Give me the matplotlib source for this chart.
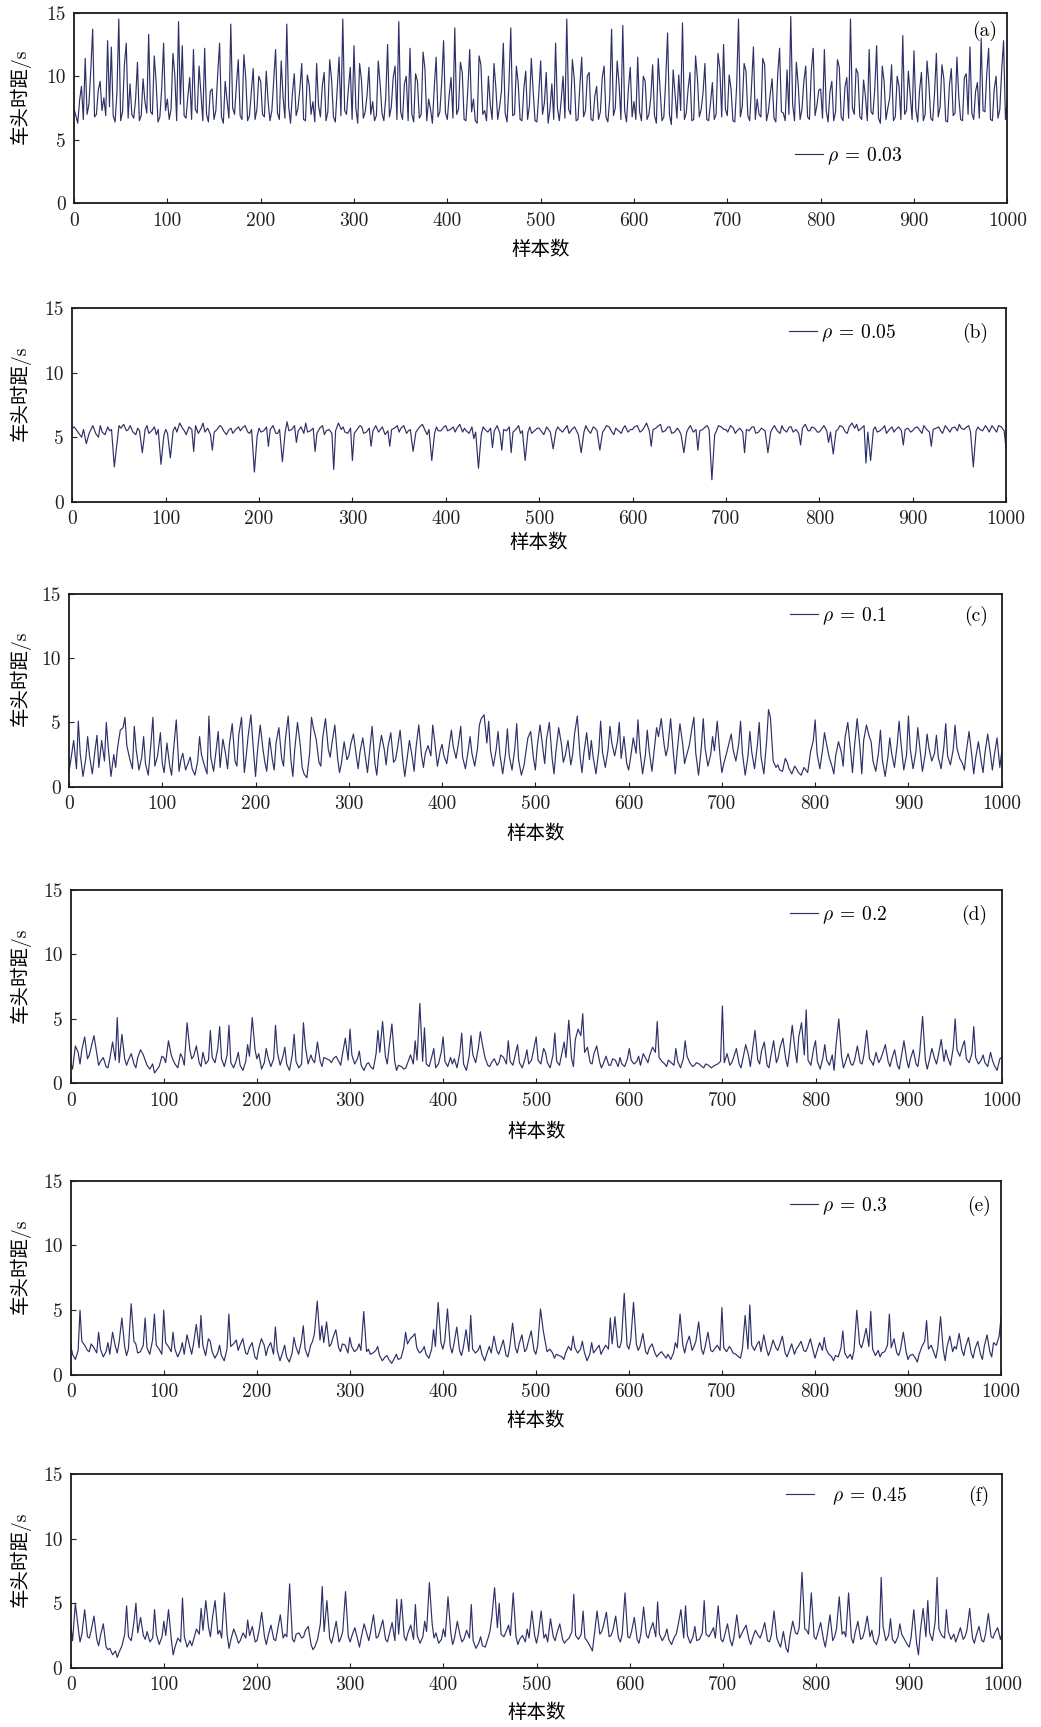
import numpy as np
import matplotlib
matplotlib.use("Agg")
import matplotlib.pyplot as plt

plt.rcParams["font.family"] = ["cmr10", "Noto Sans CJK SC", "DejaVu Sans"]
plt.rcParams["mathtext.fontset"] = "cm"
plt.rcParams["axes.unicode_minus"] = False
plt.rcParams["font.size"] = 14

# ── data (one value every ~2 / ~2.5 samples) ──────────────────────────────────
samples_a = np.arange(0, 1001, 2)
samples = np.round(np.arange(0, 1001, 2.5)).astype(int)

headway_a = [
    7.4, 6.9, 6.3, 8.1, 9.2, 6.6, 11.4, 7.0, 7.8, 10.5, 13.7, 6.8, 7.0, 8.9, 9.6, 7.3, 8.3, 6.9, 12.8, 7.6,
    12.3, 6.9, 6.4, 8.7, 14.5, 6.5, 7.2, 10.9, 12.6, 6.7, 9.4, 7.0, 6.7, 8.2, 11.1, 6.5, 6.9, 9.8, 8.0, 7.1,
    13.3, 7.2, 7.0, 11.6, 9.5, 6.4, 6.8, 9.1, 12.6, 7.3, 8.2, 6.6, 7.4, 11.8, 10.1, 6.5, 14.3, 7.8, 12.4, 6.9,
    6.7, 8.4, 9.9, 6.6, 12.1, 7.4, 7.1, 10.8, 8.6, 6.5, 12.2, 7.0, 6.4, 8.8, 9.0, 6.6, 7.3, 10.2, 12.6, 6.8,
    6.3, 9.6, 8.1, 6.7, 14.1, 7.5, 7.0, 9.3, 11.3, 6.9, 6.6, 11.7, 9.9, 6.5, 6.9, 8.7, 10.6, 6.6, 7.4, 10.0,
    9.6, 7.0, 6.8, 10.4, 8.0, 6.5, 7.3, 9.7, 12.1, 7.1, 6.6, 11.2, 8.4, 6.7, 14.1, 7.6, 6.3, 8.6, 10.2, 6.9,
    7.5, 9.0, 11.0, 6.6, 6.5, 10.1, 9.3, 7.0, 8.0, 6.4, 11.0, 7.7, 6.8, 9.2, 10.3, 6.5, 7.2, 11.3, 9.7, 6.8,
    6.4, 8.9, 11.5, 6.9, 14.5, 7.3, 7.0, 9.0, 10.7, 6.6, 12.4, 7.5, 6.3, 11.0, 9.7, 6.7, 7.2, 8.5, 10.7, 7.0,
    8.0, 6.5, 6.9, 11.2, 9.4, 7.1, 6.5, 8.3, 12.5, 6.8, 7.6, 9.9, 10.8, 6.6, 14.3, 7.2, 6.6, 9.4, 10.0, 6.5,
    12.2, 7.0, 6.4, 10.2, 9.6, 6.7, 7.0, 11.9, 10.6, 6.5, 8.2, 7.4, 6.3, 9.1, 11.5, 6.8, 7.2, 9.5, 12.8, 7.1,
    6.6, 8.5, 9.9, 6.7, 13.8, 7.0, 7.4, 11.1, 10.3, 6.6, 6.5, 9.0, 12.1, 7.2, 8.2, 6.5, 6.3, 11.6, 10.9, 7.0,
    7.3, 6.5, 10.0, 7.8, 6.6, 11.0, 9.1, 6.6, 7.6, 8.8, 12.6, 7.1, 6.4, 9.3, 13.8, 6.9, 7.0, 10.8, 9.4, 6.6,
    6.5, 9.0, 10.4, 6.6, 7.7, 11.4, 8.8, 6.5, 6.4, 8.6, 11.2, 7.0, 7.9, 10.3, 6.3, 7.4, 9.4, 6.6, 12.6, 7.5,
    6.5, 8.1, 10.0, 6.7, 14.5, 7.4, 7.0, 11.3, 9.8, 6.5, 6.6, 9.2, 11.5, 6.8, 7.3, 10.0, 10.3, 6.6, 6.5, 8.4,
    9.2, 6.6, 7.2, 9.9, 10.8, 6.8, 6.4, 8.2, 13.7, 6.9, 7.5, 11.2, 9.4, 6.6, 14.0, 7.3, 6.4, 9.0, 10.7, 6.8,
    8.0, 6.6, 11.5, 7.2, 6.5, 10.0, 9.6, 6.6, 7.0, 8.3, 10.9, 6.9, 6.3, 11.4, 8.9, 6.5, 6.8, 9.7, 13.4, 7.0,
    6.2, 10.5, 8.6, 6.7, 10.1, 7.3, 14.2, 6.6, 7.1, 9.0, 10.3, 6.5, 6.6, 11.6, 9.8, 6.8, 7.4, 8.7, 11.0, 6.6,
    6.5, 7.9, 9.5, 6.6, 7.0, 11.8, 10.6, 6.8, 12.5, 7.4, 6.9, 10.1, 9.0, 6.5, 6.4, 9.2, 14.5, 6.8, 7.6, 11.0,
    10.4, 6.9, 6.5, 9.3, 12.3, 6.6, 8.2, 7.0, 6.8, 11.4, 10.9, 6.5, 7.2, 8.6, 9.8, 6.7, 6.4, 10.1, 12.2, 7.2,
    7.1, 6.5, 10.5, 7.0, 14.7, 7.8, 6.5, 11.1, 9.3, 6.6, 7.4, 9.6, 10.8, 6.8, 6.6, 10.4, 12.2, 6.9, 7.7, 8.9,
    9.0, 6.7, 12.1, 7.3, 6.4, 8.8, 9.6, 6.5, 7.2, 11.3, 10.7, 6.8, 6.5, 9.1, 9.9, 6.7, 14.5, 7.5, 7.0, 10.6,
    10.2, 6.8, 6.6, 9.7, 8.4, 6.5, 12.1, 7.2, 7.0, 9.0, 12.4, 6.7, 6.3, 10.8, 9.6, 6.6, 7.5, 8.3, 10.9, 6.5,
    6.8, 10.0, 9.2, 6.6, 13.2, 7.0, 7.3, 10.4, 8.5, 6.6, 12.0, 7.4, 6.4, 8.9, 10.3, 6.5, 7.0, 11.2, 9.4, 6.7,
    6.5, 8.6, 11.8, 6.8, 7.6, 10.9, 9.8, 6.5, 6.4, 9.3, 10.6, 6.9, 7.1, 11.5, 8.4, 6.6, 6.5, 9.9, 10.2, 7.0,
    12.3, 7.1, 6.6, 8.8, 9.5, 6.7, 13.0, 7.3, 7.2, 10.2, 12.2, 6.6, 6.5, 9.0, 10.0, 6.7, 7.4, 10.5, 12.8, 6.6,
    8.2,
]

headway_b = [
    5.7, 5.8, 5.5, 5.2, 5.0, 5.6, 4.5, 5.3, 5.6, 5.9, 5.3, 5.0, 5.9, 5.4, 5.2, 5.8, 5.5, 5.6, 2.7, 4.6,
    5.9, 5.7, 6.0, 5.5, 5.6, 5.9, 5.4, 5.2, 5.7, 5.5, 3.8, 5.6, 5.9, 5.3, 5.5, 5.8, 5.2, 5.6, 2.9, 5.1,
    5.6, 5.3, 3.4, 5.5, 5.8, 5.4, 6.1, 5.7, 5.5, 5.2, 5.8, 5.6, 3.9, 5.9, 5.3, 5.7, 6.1, 5.4, 5.7, 5.2,
    4.0, 5.4, 5.6, 5.9, 5.8, 5.5, 5.2, 5.6, 5.7, 5.3, 5.6, 5.8, 5.5, 5.7, 5.9, 5.4, 5.3, 5.6, 2.3, 5.1,
    5.7, 5.4, 5.5, 5.8, 4.3, 5.6, 5.9, 5.3, 5.3, 5.6, 3.1, 5.4, 6.2, 5.5, 5.6, 5.9, 4.6, 5.5, 5.8, 5.3,
    6.1, 5.4, 5.5, 5.7, 3.9, 5.3, 5.7, 5.9, 5.2, 5.5, 5.6, 5.3, 2.5, 5.5, 6.1, 5.6, 5.8, 5.4, 5.3, 5.7,
    3.2, 5.3, 5.6, 5.9, 5.8, 5.3, 5.4, 5.7, 4.3, 5.5, 5.9, 5.4, 5.6, 5.8, 5.2, 5.5, 4.3, 5.6, 5.7, 5.9,
    5.4, 5.7, 5.9, 5.3, 5.5, 5.6, 3.9, 5.4, 5.6, 5.8, 6.0, 5.5, 5.2, 5.6, 3.2, 5.3, 5.8, 5.5, 5.5, 5.8,
    5.9, 5.5, 5.6, 5.8, 5.4, 5.7, 6.0, 5.4, 5.7, 5.5, 5.3, 5.8, 4.9, 5.4, 2.6, 5.2, 5.8, 5.6, 5.4, 5.7,
    4.2, 5.5, 5.9, 5.3, 4.0, 5.6, 5.5, 5.8, 3.8, 5.4, 5.6, 5.9, 5.3, 5.5, 3.2, 5.4, 5.8, 5.3, 5.5, 5.7,
    5.7, 5.5, 5.2, 5.8, 5.6, 5.4, 4.1, 5.5, 5.8, 5.6, 5.4, 5.7, 5.9, 5.3, 5.6, 5.8, 5.5, 5.2, 3.8, 5.4,
    5.9, 5.6, 5.3, 5.8, 5.7, 5.5, 4.0, 5.4, 5.6, 5.9, 5.8, 5.4, 5.2, 5.7, 5.5, 5.3, 5.7, 5.9, 5.4, 5.6,
    5.6, 5.8, 5.9, 5.4, 5.5, 5.7, 6.1, 5.5, 4.3, 5.6, 5.7, 5.9, 6.0, 5.4, 5.5, 5.8, 5.8, 5.3, 5.4, 5.7,
    5.5, 5.2, 3.8, 5.4, 5.7, 5.9, 5.4, 5.6, 4.0, 5.5, 5.6, 5.8, 5.9, 5.6, 1.7, 5.2, 5.5, 5.9, 5.8, 5.6,
    5.6, 5.4, 5.9, 5.7, 5.3, 5.5, 5.7, 5.4, 3.8, 5.6, 5.5, 5.8, 5.8, 5.3, 5.4, 5.7, 5.6, 5.5, 3.8, 5.4,
    5.7, 5.9, 5.5, 5.3, 5.9, 5.6, 5.4, 5.8, 5.8, 5.4, 5.6, 5.3, 4.4, 5.7, 6.0, 5.5, 5.5, 5.8, 5.7, 5.4,
    5.4, 5.6, 5.9, 5.5, 4.6, 5.4, 3.7, 5.5, 5.6, 5.9, 5.8, 5.4, 5.3, 5.8, 6.1, 5.7, 6.0, 5.5, 5.7, 5.9,
    3.0, 5.4, 3.2, 5.6, 5.8, 5.4, 5.5, 5.7, 5.9, 5.3, 5.6, 5.8, 5.4, 5.6, 5.8, 5.5, 4.4, 5.6, 5.7, 5.4,
    5.5, 5.7, 5.8, 5.5, 5.3, 5.9, 5.6, 5.4, 4.3, 5.6, 5.7, 5.8, 5.5, 5.3, 5.9, 5.6, 5.4, 5.7, 5.8, 5.5,
    6.0, 5.7, 5.6, 5.8, 5.9, 5.4, 2.7, 5.5, 5.8, 5.6, 5.5, 5.9, 5.7, 5.4, 5.9, 5.6, 5.4, 5.9, 5.8, 5.5,
    4.2,
]

headway_c = [
    1.2, 2.1, 3.6, 1.4, 5.1, 2.6, 0.8, 2.2, 3.9, 2.4, 1.0, 2.9, 4.0, 1.5, 3.6, 2.0, 5.0, 3.1, 0.8, 2.5,
    1.5, 3.0, 4.4, 4.6, 5.4, 3.2, 2.2, 1.4, 4.7, 2.9, 1.3, 2.3, 3.9, 1.8, 0.9, 3.5, 5.4, 1.6, 2.4, 4.2,
    1.8, 1.1, 3.4, 1.6, 0.9, 2.8, 5.2, 1.2, 2.1, 2.6, 1.3, 1.9, 2.3, 1.4, 0.9, 2.0, 3.9, 2.5, 1.7, 1.0,
    5.5, 2.3, 1.2, 3.0, 4.3, 1.5, 3.7, 2.5, 1.4, 3.3, 4.9, 2.0, 1.6, 4.0, 5.4, 1.1, 2.4, 3.9, 5.6, 2.6,
    0.8, 2.7, 4.8, 2.9, 1.9, 1.2, 3.8, 2.1, 1.3, 3.4, 4.6, 2.2, 1.6, 3.7, 5.5, 2.0, 0.8, 2.9, 5.0, 3.2,
    1.5, 1.0, 0.7, 2.6, 5.4, 4.6, 3.7, 1.9, 1.6, 3.8, 5.3, 2.9, 2.3, 3.4, 4.8, 2.2, 1.1, 1.8, 3.5, 2.1,
    2.4, 3.3, 4.1, 2.4, 1.4, 2.7, 3.8, 2.2, 1.1, 2.5, 4.7, 1.8, 0.9, 2.6, 4.0, 2.9, 1.7, 3.1, 4.2, 1.9,
    2.1, 2.9, 4.4, 2.0, 0.8, 1.9, 3.6, 2.3, 1.2, 3.0, 4.8, 2.4, 1.5, 2.6, 3.2, 2.4, 4.8, 3.6, 1.6, 2.8,
    3.3, 2.4, 1.8, 3.4, 4.4, 3.1, 2.2, 3.6, 4.7, 2.3, 1.4, 2.8, 3.9, 2.6, 1.6, 3.0, 4.8, 5.3, 5.6, 3.4,
    5.1, 2.8, 1.6, 2.9, 4.3, 2.5, 1.0, 2.6, 4.5, 2.4, 1.3, 3.0, 4.9, 2.1, 0.9, 1.7, 2.8, 3.8, 4.3, 2.2,
    1.3, 3.1, 4.8, 3.0, 1.8, 3.7, 5.0, 2.2, 1.0, 2.7, 4.6, 3.3, 1.9, 2.4, 3.6, 1.7, 2.5, 4.1, 5.5, 2.3,
    1.1, 2.6, 4.2, 2.1, 3.6, 2.3, 1.0, 2.8, 5.1, 2.7, 1.5, 2.9, 4.7, 3.4, 2.4, 3.5, 5.0, 2.2, 3.9, 1.8,
    1.3, 2.2, 3.8, 2.6, 5.2, 2.9, 1.0, 2.5, 4.4, 2.8, 1.2, 3.2, 4.6, 3.9, 5.3, 3.3, 2.4, 3.0, 5.3, 2.6,
    1.0, 2.7, 4.9, 3.3, 1.8, 2.4, 3.2, 4.6, 5.4, 2.6, 0.9, 3.1, 5.3, 3.0, 1.6, 2.5, 3.9, 2.8, 5.1, 2.4,
    1.1, 1.8, 2.6, 3.5, 4.1, 2.9, 2.0, 3.3, 5.1, 2.6, 0.9, 2.4, 4.3, 2.7, 1.4, 3.2, 5.0, 2.3, 1.0, 3.6,
    6.0, 5.4, 2.0, 1.5, 1.7, 1.3, 1.2, 2.2, 1.9, 1.4, 1.0, 1.6, 1.4, 1.1, 0.9, 1.5, 1.3, 1.1, 2.7, 3.6,
    5.2, 2.6, 1.4, 2.9, 4.2, 3.4, 2.3, 1.6, 1.0, 2.4, 3.5, 2.7, 1.6, 3.8, 5.0, 2.8, 1.1, 3.0, 5.3, 3.1,
    1.0, 3.6, 4.8, 3.9, 3.5, 2.0, 1.2, 2.7, 4.4, 2.1, 0.8, 2.3, 3.8, 2.6, 1.5, 3.3, 5.1, 3.4, 1.3, 2.5,
    5.5, 2.9, 1.4, 2.7, 4.6, 3.2, 1.2, 2.5, 4.1, 3.0, 2.0, 2.6, 4.0, 2.3, 1.4, 3.1, 4.9, 2.4, 1.7, 2.9,
    4.8, 3.0, 2.2, 1.8, 1.3, 2.7, 4.3, 2.4, 1.0, 2.2, 3.5, 2.0, 1.1, 2.6, 4.1, 2.5, 1.3, 2.4, 3.8, 1.5,
    2.7,
]

headway_d = [
    1.6, 1.1, 2.9, 2.4, 1.5, 2.6, 3.6, 1.9, 2.2, 2.8, 3.7, 2.3, 1.4, 1.7, 2.0, 1.3, 1.2, 1.9, 3.2, 1.8,
    5.1, 1.6, 3.8, 1.9, 1.4, 1.8, 2.3, 1.5, 1.2, 2.0, 2.6, 2.2, 1.8, 1.4, 1.1, 1.5, 0.8, 1.0, 1.3, 2.1,
    2.0, 1.6, 3.3, 2.2, 1.8, 1.5, 1.2, 2.3, 2.0, 1.4, 4.7, 2.6, 1.9, 2.1, 2.9, 1.6, 1.3, 2.4, 1.5, 1.8,
    4.1, 2.0, 1.6, 2.7, 4.4, 1.9, 1.3, 2.2, 4.5, 1.6, 1.2, 1.8, 2.4, 1.4, 1.0, 1.7, 3.0, 2.1, 5.1, 2.6,
    1.9, 2.3, 1.1, 1.6, 2.7, 2.0, 1.3, 1.9, 4.5, 2.4, 1.4, 2.1, 2.8, 1.5, 1.0, 2.2, 3.8, 1.7, 1.2, 1.5,
    4.7, 2.9, 1.5, 2.2, 1.8, 1.6, 3.2, 1.7, 1.3, 2.0, 1.9, 1.8, 1.6, 1.9, 2.1, 1.7, 1.4, 2.3, 3.5, 1.8,
    4.2, 2.2, 1.5, 1.9, 2.5, 1.4, 1.0, 1.5, 1.6, 1.3, 1.1, 2.3, 4.1, 2.4, 4.8, 2.1, 1.5, 2.8, 4.6, 1.7,
    1.0, 1.4, 1.3, 1.1, 1.2, 1.6, 2.2, 1.5, 3.3, 1.8, 6.2, 1.7, 4.3, 1.5, 1.3, 2.1, 2.7, 1.2, 1.5, 2.4,
    3.6, 1.7, 1.3, 2.0, 1.5, 1.9, 1.2, 2.4, 3.9, 1.5, 1.0, 2.1, 3.7, 2.2, 1.6, 2.8, 4.0, 3.1, 2.0, 1.4,
    1.3, 1.6, 1.9, 1.4, 1.6, 2.2, 2.0, 1.5, 3.3, 1.7, 1.4, 2.4, 3.0, 1.6, 1.2, 1.9, 2.6, 1.5, 1.8, 2.9,
    3.6, 1.8, 1.5, 2.7, 2.4, 1.6, 1.2, 2.2, 3.9, 1.7, 1.4, 2.5, 3.2, 2.0, 4.9, 1.9, 1.3, 3.4, 4.2, 3.7,
    5.4, 2.4, 2.8, 1.6, 1.5, 2.3, 2.9, 1.7, 1.2, 1.5, 2.1, 1.4, 1.4, 1.9, 1.8, 1.3, 2.0, 1.5, 1.3, 1.9,
    2.7, 1.8, 1.5, 1.7, 2.1, 1.4, 2.3, 1.9, 1.6, 2.2, 2.8, 2.4, 4.8, 2.0, 1.7, 1.5, 1.3, 1.8, 1.6, 1.4,
    2.7, 1.7, 1.2, 1.9, 3.3, 2.1, 1.6, 1.3, 1.4, 1.6, 1.5, 1.3, 1.2, 1.5, 1.4, 1.2, 1.3, 1.4, 1.5, 1.7,
    6.0, 1.6, 2.3, 1.4, 1.6, 2.0, 2.7, 1.5, 1.2, 1.9, 3.0, 2.2, 1.3, 2.4, 4.1, 1.8, 1.5, 2.5, 3.2, 1.4,
    1.2, 2.1, 3.3, 1.6, 2.0, 2.8, 3.5, 1.9, 1.3, 2.4, 4.5, 2.6, 1.6, 3.6, 4.7, 2.2, 5.7, 1.8, 1.4, 2.7,
    3.3, 1.7, 1.1, 2.0, 3.0, 1.8, 1.4, 2.2, 1.0, 2.9, 5.0, 2.1, 1.2, 1.6, 2.3, 1.5, 1.4, 1.8, 2.9, 1.6,
    1.5, 2.2, 4.1, 1.9, 1.7, 1.4, 2.4, 1.6, 1.9, 2.3, 3.0, 1.7, 1.3, 1.9, 2.6, 1.4, 1.1, 2.0, 3.3, 1.8,
    1.2, 1.9, 2.6, 1.5, 1.3, 2.4, 5.2, 1.8, 1.1, 1.7, 2.7, 1.9, 1.5, 2.2, 3.4, 1.7, 2.6, 2.0, 1.4, 2.8,
    5.0, 2.6, 2.1, 2.9, 3.3, 1.9, 1.6, 2.3, 4.4, 2.0, 1.5, 1.8, 2.2, 1.6, 1.3, 2.4, 1.8, 1.4, 1.0, 1.9,
    2.0,
]

headway_e = [
    2.3, 1.6, 1.2, 1.9, 5.0, 2.6, 2.3, 1.9, 1.8, 2.4, 2.1, 1.7, 3.3, 2.0, 1.4, 1.8, 2.5, 1.6, 3.3, 2.2,
    1.7, 2.5, 4.4, 2.2, 1.5, 2.0, 5.5, 2.6, 2.4, 1.7, 1.8, 2.3, 4.4, 2.1, 1.6, 2.7, 4.7, 2.3, 2.0, 1.6,
    5.0, 2.5, 2.2, 1.8, 3.3, 2.0, 1.4, 1.9, 2.5, 1.6, 3.1, 2.2, 1.6, 2.4, 3.9, 2.1, 4.6, 2.3, 1.5, 2.8,
    2.6, 1.8, 1.3, 1.7, 2.3, 1.5, 1.1, 2.0, 4.7, 2.2, 2.4, 2.7, 1.9, 2.3, 2.8, 1.7, 1.6, 2.1, 2.5, 1.4,
    1.2, 2.0, 2.8, 2.3, 1.5, 2.1, 2.5, 1.6, 3.7, 1.9, 1.1, 1.8, 2.3, 1.4, 1.0, 1.7, 2.9, 2.2, 1.6, 2.6,
    3.8, 2.0, 1.4, 2.3, 2.6, 3.2, 5.7, 2.7, 3.8, 2.5, 4.1, 2.2, 2.4, 2.9, 3.5, 2.1, 1.8, 2.4, 2.3, 1.7,
    2.9, 2.2, 1.8, 2.0, 2.4, 1.9, 4.9, 1.8, 2.0, 1.6, 1.7, 1.9, 2.2, 1.5, 1.1, 1.4, 1.5, 1.2, 0.9, 1.3,
    1.6, 1.2, 1.3, 2.1, 3.3, 2.4, 2.8, 3.0, 3.2, 2.1, 1.7, 1.9, 2.2, 1.6, 1.3, 2.0, 3.5, 2.2, 5.6, 2.5,
    2.0, 2.6, 5.1, 2.2, 1.7, 2.4, 3.7, 1.9, 1.5, 2.1, 3.5, 1.8, 4.6, 2.0, 1.7, 1.9, 2.3, 1.6, 1.1, 1.8,
    2.2, 1.7, 3.0, 1.9, 1.6, 2.0, 2.7, 1.5, 1.4, 2.2, 4.0, 2.1, 1.7, 2.4, 3.1, 1.8, 2.0, 2.6, 3.4, 1.9,
    1.6, 2.3, 5.1, 3.4, 2.6, 1.8, 2.0, 1.7, 1.3, 1.6, 1.5, 1.4, 1.2, 1.7, 2.2, 1.9, 3.0, 2.1, 1.7, 2.0,
    2.6, 1.8, 1.1, 1.6, 2.5, 1.7, 2.0, 2.3, 1.6, 1.9, 2.3, 2.0, 4.4, 2.4, 4.5, 2.2, 2.1, 2.6, 6.3, 2.3,
    2.0, 2.7, 5.6, 2.4, 1.9, 2.2, 3.2, 1.8, 1.6, 2.1, 2.4, 1.7, 1.4, 1.6, 1.8, 1.5, 1.3, 1.6, 1.2, 1.7,
    2.5, 2.1, 4.7, 2.3, 1.7, 2.4, 3.0, 1.9, 2.2, 2.6, 4.1, 2.0, 1.6, 2.2, 3.3, 1.9, 1.8, 2.0, 2.3, 1.9,
    5.2, 2.1, 1.8, 2.2, 2.0, 1.7, 1.6, 1.4, 1.3, 2.0, 4.6, 2.0, 5.4, 2.3, 1.9, 2.4, 2.6, 1.8, 3.1, 2.0,
    1.5, 1.9, 2.7, 2.1, 1.9, 2.3, 3.0, 1.7, 1.4, 1.8, 2.4, 1.6, 2.0, 2.2, 2.6, 1.9, 1.8, 2.1, 2.8, 1.9,
    1.3, 1.8, 2.5, 1.9, 2.9, 2.0, 1.6, 1.4, 1.1, 1.5, 1.4, 2.1, 3.4, 1.7, 1.3, 1.6, 1.2, 1.9, 5.0, 2.4,
    2.1, 2.6, 3.6, 2.2, 4.9, 2.0, 1.5, 1.9, 1.4, 1.7, 1.8, 2.3, 4.7, 2.1, 2.8, 1.7, 1.5, 2.0, 3.3, 1.8,
    1.2, 1.5, 1.6, 1.3, 1.0, 1.6, 2.2, 2.6, 4.2, 2.0, 2.3, 1.7, 1.3, 2.1, 4.5, 1.9, 1.1, 2.2, 3.0, 1.8,
    2.2, 2.0, 3.2, 1.9, 1.5, 2.2, 2.9, 1.7, 1.3, 2.0, 2.6, 1.6, 1.2, 2.2, 3.1, 1.8, 1.4, 2.5, 2.3, 3.0,
    4.4,
]

headway_f = [
    3.3, 2.1, 5.0, 3.1, 2.0, 2.6, 4.5, 2.4, 2.3, 2.9, 4.0, 2.2, 1.7, 2.5, 3.4, 1.6, 1.4, 1.5, 1.0, 1.3,
    0.8, 1.2, 1.7, 2.6, 4.8, 2.4, 2.1, 3.6, 5.0, 2.7, 3.9, 2.5, 2.2, 2.8, 2.0, 2.3, 4.5, 2.6, 1.8, 2.4,
    3.6, 2.5, 4.5, 2.2, 1.0, 1.6, 2.3, 2.0, 5.4, 2.4, 1.6, 2.1, 1.7, 2.2, 3.0, 2.6, 4.6, 2.9, 5.2, 3.1,
    2.4, 3.8, 5.2, 2.6, 2.9, 2.3, 5.8, 2.5, 1.5, 2.2, 3.0, 2.4, 1.9, 2.1, 2.7, 2.3, 3.7, 2.5, 3.2, 2.0,
    2.1, 2.8, 4.3, 2.4, 1.8, 2.5, 3.3, 2.2, 2.1, 2.9, 4.1, 2.3, 2.6, 2.4, 6.5, 2.2, 2.0, 2.6, 2.7, 2.3,
    2.4, 2.9, 3.2, 1.8, 1.4, 1.6, 2.2, 3.4, 6.3, 2.8, 5.2, 2.3, 1.9, 2.5, 3.6, 2.0, 2.3, 2.8, 5.9, 2.4,
    2.0, 2.5, 3.1, 2.2, 1.6, 2.4, 3.4, 2.6, 2.1, 2.8, 4.1, 2.3, 2.4, 2.9, 3.7, 2.2, 2.0, 2.6, 3.5, 2.1,
    5.3, 2.6, 5.3, 2.4, 2.1, 2.7, 3.3, 2.2, 4.9, 2.5, 1.9, 2.4, 3.6, 2.8, 6.6, 3.4, 2.3, 2.7, 1.9, 2.2,
    3.0, 2.4, 5.5, 2.7, 1.8, 2.3, 3.6, 2.5, 2.0, 2.2, 2.9, 2.3, 4.9, 2.1, 1.5, 1.9, 2.4, 1.7, 1.6, 2.3,
    2.8, 3.9, 6.2, 3.1, 5.0, 2.6, 2.4, 2.9, 3.3, 2.5, 5.8, 2.4, 1.8, 2.2, 2.5, 2.0, 3.0, 2.3, 4.4, 2.5,
    1.9, 2.6, 4.4, 2.3, 2.6, 2.0, 3.8, 2.4, 2.1, 2.7, 3.4, 2.2, 1.9, 2.1, 2.3, 2.8, 5.7, 2.5, 2.2, 2.6,
    4.4, 2.3, 2.0, 1.6, 1.3, 2.5, 4.4, 2.6, 2.8, 3.3, 4.3, 2.4, 2.5, 2.9, 4.0, 2.3, 2.0, 2.6, 5.8, 2.4,
    2.3, 2.8, 3.9, 2.2, 1.9, 2.6, 4.7, 2.5, 2.3, 2.9, 3.5, 2.4, 5.1, 2.6, 2.1, 2.5, 3.0, 2.2, 1.8, 2.4,
    2.6, 3.3, 4.5, 2.3, 4.8, 2.5, 1.9, 2.4, 3.2, 2.1, 2.2, 2.7, 5.2, 2.6, 2.4, 2.8, 3.1, 2.3, 4.8, 2.2,
    2.0, 2.5, 3.4, 2.1, 1.7, 2.4, 4.1, 2.3, 2.6, 2.9, 3.3, 2.2, 1.8, 2.3, 2.9, 2.5, 2.3, 2.7, 3.5, 2.1,
    2.0, 2.5, 4.4, 2.3, 1.9, 1.6, 2.8, 1.5, 1.2, 2.4, 3.6, 2.7, 2.6, 3.1, 7.4, 3.0, 2.9, 2.6, 5.8, 2.4,
    2.2, 2.7, 3.5, 2.2, 1.6, 2.5, 4.1, 2.1, 2.4, 3.0, 5.5, 2.6, 2.8, 2.4, 5.8, 2.3, 1.9, 2.7, 3.6, 2.2,
    2.3, 2.8, 4.0, 2.4, 2.9, 2.1, 1.8, 2.6, 7.0, 3.2, 2.1, 2.5, 3.8, 2.2, 1.9, 2.4, 3.4, 2.6, 2.2, 1.8,
    1.6, 2.3, 4.5, 1.9, 1.0, 2.8, 4.6, 2.4, 5.2, 2.7, 2.1, 3.6, 7.0, 3.0, 2.5, 2.3, 4.5, 2.8, 2.2, 2.6,
    2.0, 2.4, 3.1, 2.2, 2.4, 2.9, 4.6, 2.3, 1.9, 2.5, 3.2, 2.1, 2.0, 2.6, 4.2, 2.4, 2.3, 2.7, 3.1, 2.2,
    2.7,
]

rho_labels = ["0.03", "0.05", "0.1", "0.2", "0.3", "0.45"]
panel_tags = ["(a)", "(b)", "(c)", "(d)", "(e)", "(f)"]
series = [
    (samples_a, headway_a), (samples, headway_b), (samples, headway_c),
    (samples, headway_d), (samples, headway_e), (samples, headway_f),
]

# ── layout (pixel boxes measured on the 1041x1727 reference) ──────────────────
W, H = 1041, 1727
LINE = "#2e3068"
# left, top, right, bottom
BOXES = [
    (74.0, 12.7, 1007.3, 203.3),
    (72.3, 308.3, 1006.0, 501.7),
    (69.0, 594.0, 1001.7, 786.7),
    (70.7, 890.0, 1001.7, 1083.3),
    (70.7, 1180.7, 1001.0, 1375.0),
    (70.7, 1474.3, 1002.3, 1667.7),
]
XLABEL_OFF = [46.7, 41.5, 47.0, 49.0, 46.0, 45.5]
LEG_POS = [(795, 156), (789, 333), (790, 616), (790, 915), (790, 1206), (786, 1496)]
LEG_PAD = [0.2, 0.2, 0.2, 0.2, 0.2, 0.9]
TAG_POS = [(985, 31), (975, 333), (976, 616), (974, 915), (979, 1206), (979, 1496)]

fig = plt.figure(figsize=(W / 100, H / 100), dpi=100)

for i, ((xs, ys), rho, tag) in enumerate(zip(series, rho_labels, panel_tags)):
    l, t, r, b = BOXES[i]
    ax = fig.add_axes([l / W, 1 - b / H, (r - l) / W, (b - t) / H])
    ax.plot(xs, ys, color=LINE, lw=0.85, label=rf"$\rho\:=\:{rho}$")
    ax.set_xlim(0, 1000)
    ax.set_ylim(0, 15)
    ax.set_xticks(np.arange(0, 1001, 100))
    ax.set_yticks([0, 5, 10, 15])
    ax.tick_params(direction="in", length=3.5, width=0.8, labelsize=14,
                   top=False, right=False, pad=6, colors="#222222")
    for sp in ax.spines.values():
        sp.set_linewidth(1.3)
        sp.set_color("#1a1a1a")

    ax.set_xlabel("样本数", fontsize=14, va="center")
    ax.xaxis.set_label_coords(0.5, -XLABEL_OFF[i] / (b - t))
    ax.set_ylabel("车头时距/s", fontsize=14, va="center")
    ax.yaxis.set_label_coords((20 - l) / (r - l), 0.56)

    lx, ly = LEG_POS[i]
    ax.legend(loc="center left", bbox_to_anchor=(lx / W, 1 - ly / H),
              bbox_transform=fig.transFigure, frameon=False, fontsize=14,
              handlelength=1.45, handletextpad=LEG_PAD[i],
              borderpad=0, borderaxespad=0)

    tx, ty = TAG_POS[i]
    fig.text(tx / W, 1 - ty / H, tag, ha="center", va="center", fontsize=14)

fig.savefig("out.png", dpi=100)
